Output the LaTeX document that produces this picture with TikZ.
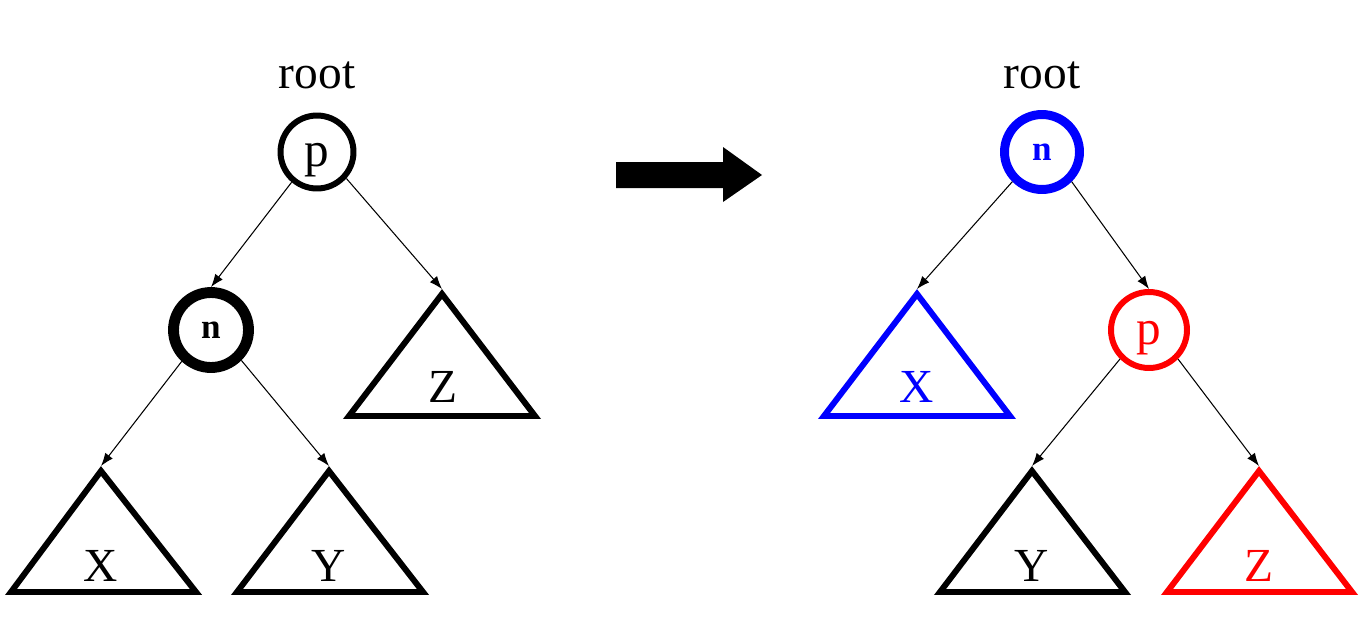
\documentclass[tikz,border=0pt]{standalone}
\usepackage{fontspec}
\setmainfont{Liberation Serif}
\usetikzlibrary{arrows.meta}
\definecolor{MovedClr}{rgb}{0,0,1}
\definecolor{DownClr}{rgb}{1,0,0}

\begin{document}
\begin{tikzpicture}[x=0.02cm,y=-0.02cm,
  vtx/.style={circle,draw,inner sep=0pt,minimum size=1.46cm,line width=3.4pt,
    font=\fontsize{28}{30}\selectfont,text height=16pt,text depth=0pt},
  heavy/.style={minimum size=1.5cm,font=\fontsize{20}{24}\selectfont\bfseries,
    text height=,text depth=},
  tri/.style={line width=3.4pt,line join=miter},
  lbl/.style={font=\fontsize{27}{30}\selectfont,inner sep=0pt},
  edge/.style={line width=0.6pt,-{Latex[length=2.6mm,width=1.9mm]}}]
\useasboundingbox (0,0) rectangle (1368,619);

% before the rotation
\node[lbl,anchor=base] (rootL) at (317,88) {root};
\node[vtx] (pL) at (317,152) {p};
\node[vtx,heavy,line width=6.2pt] (nL) at (211,330) {n};

\draw[tri] (442,294) -- (349,416) -- (535,416) -- cycle;
\draw[tri] (101,471) -- (11,592) -- (196,592) -- cycle;
\draw[tri] (329,471) -- (237,592) -- (423,592) -- cycle;
\coordinate (zL) at (442,289);
\coordinate (xL) at (101,466);
\coordinate (yL) at (329,466);
\node[lbl] (zLt) at (443,387) {Z};
\node[lbl] (xLt) at (101,566) {X};
\node[lbl] (yLt) at (329,566) {Y};

\draw[edge] (pL.230) -- (nL.north);
\draw[edge] (pL.318) -- (zL);
\draw[edge] (nL.227) -- (xL);
\draw[edge] (nL.315) -- (yL);

% the big arrow
\fill (616,162) -- (723,162) -- (723,147) -- (762,175) -- (723,202) -- (723,188) -- (616,188) -- cycle;

% after the rotation
\node[lbl,anchor=base] (rootR) at (1042,88) {root};
\node[vtx,heavy,line width=5.1pt,draw=MovedClr,text=MovedClr] (nR) at (1042,152) {n};
\node[vtx,minimum size=1.52cm,draw=DownClr,text=DownClr] (pR) at (1149,330) {p};

\draw[tri,MovedClr] (917,294) -- (824,416) -- (1010,416) -- cycle;
\draw[tri] (1032,471) -- (940,592) -- (1125,592) -- cycle;
\draw[tri,DownClr] (1259,471) -- (1167,592) -- (1352,592) -- cycle;
\coordinate (xR) at (917,289);
\coordinate (yR) at (1032,466);
\coordinate (zR) at (1259,466);
\node[lbl,text=MovedClr] (xRt) at (917,387) {X};
\node[lbl] (yRt) at (1032,566) {Y};
\node[lbl,text=DownClr] (zRt) at (1259,566) {Z};

\draw[edge] (nR.225) -- (xR);
\draw[edge] (nR.315) -- (pR.north);
\draw[edge] (pR.225) -- (yR);
\draw[edge] (pR.315) -- (zR);

\end{tikzpicture}
\end{document}
